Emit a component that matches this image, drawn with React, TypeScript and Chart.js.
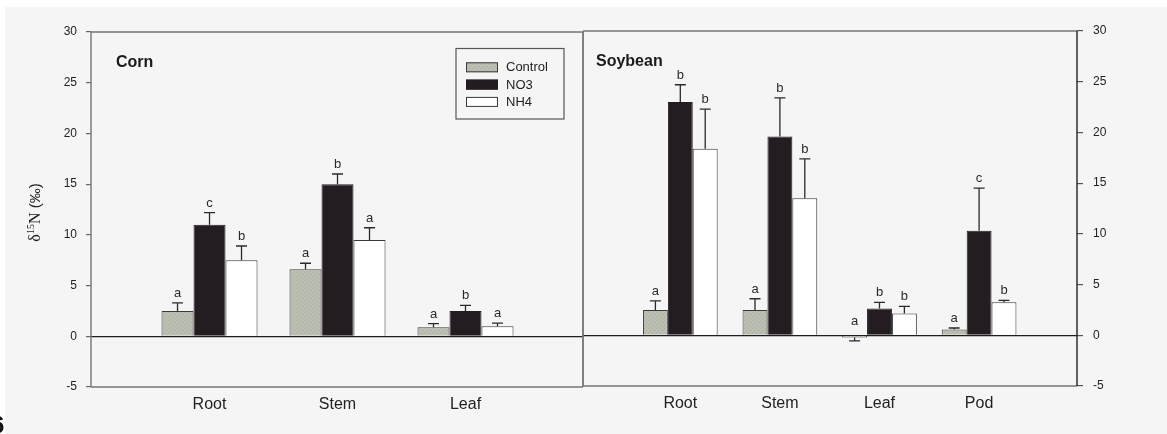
import React, { useEffect, useRef } from 'react';
import { Chart, registerables } from 'chart.js';

Chart.register(...registerables);

const W = 1167;
const H = 434;

const SANS = "'Liberation Sans', Arial, sans-serif";
const SERIF = "'Liberation Serif', 'Times New Roman', serif";

// Treatments and plant parts
const treatments = ['Control', 'NO3', 'NH4'];
const cornParts = ['Root', 'Stem', 'Leaf'];
const soyParts = ['Root', 'Stem', 'Leaf', 'Pod'];

// Corn: mean δ15N (‰), standard error, significance letters
const cornControl = [2.5, 6.6, 0.9];
const cornNO3 = [11.0, 15.0, 2.5];
const cornNH4 = [7.5, 9.5, 1.0];
const cornControlErr = [0.8, 0.6, 0.35];
const cornNO3Err = [1.2, 1.0, 0.55];
const cornNH4Err = [1.4, 1.2, 0.3];
const cornControlSig = ['a', 'a', 'a'];
const cornNO3Sig = ['c', 'b', 'b'];
const cornNH4Sig = ['b', 'a', 'a'];

// Soybean: mean δ15N (‰), standard error, significance letters
const soyControl = [2.5, 2.5, -0.23, 0.56];
const soyNO3 = [23.0, 19.6, 2.65, 10.3];
const soyNH4 = [18.4, 13.5, 2.15, 3.25];
const soyControlErr = [0.9, 1.1, 0.33, 0.16];
const soyNO3Err = [1.7, 3.8, 0.6, 4.2];
const soyNH4Err = [3.9, 3.9, 0.7, 0.2];
const soyControlSig = ['a', 'a', 'a', 'a'];
const soyNO3Sig = ['b', 'b', 'b', 'c'];
const soyNH4Sig = ['b', 'b', 'b', 'b'];

// Shared value axis
const yMin = -5;
const yMax = 30;
const yStep = 5;

const edgeColors = ['#3a3a3a', '#231c21', '#3a3a3a'];

function makeStipple(): CanvasPattern | string {
  const c = document.createElement('canvas');
  c.width = 4;
  c.height = 4;
  const g = c.getContext('2d');
  if (!g) return '#b9bdaf';
  g.fillStyle = '#b9bdaf';
  g.fillRect(0, 0, 4, 4);
  g.fillStyle = '#adb1a3';
  g.fillRect(0, 0, 1, 1);
  g.fillRect(2, 2, 1, 1);
  g.fillStyle = '#c3c7b9';
  g.fillRect(2, 0, 1, 1);
  g.fillRect(0, 2, 1, 1);
  const p = g.createPattern(c, 'repeat');
  return p || '#b9bdaf';
}

function makeDatasets(
  values: number[][],
  errs: number[][],
  sigs: string[][],
  fills: (CanvasPattern | string)[]
) {
  return treatments.map((t, k) => ({
    label: t,
    data: values[k].map((v, i) => ({ x: i + 1, y: v })),
    err: errs[k],
    sig: sigs[k],
    backgroundColor: fills[k],
    borderColor: edgeColors[k],
    borderWidth: 1,
    categoryPercentage: 0.75,
    barPercentage: 1,
  }));
}

// Frame, error bars, letters, panel title, legend and axis title
const panelPlugin = {
  id: 'panel',
  beforeDatasetsDraw(chart: any, _args: any, opts: any) {
    const { ctx, chartArea: a } = chart;
    ctx.save();
    ctx.lineWidth = 1.4;
    ctx.strokeStyle = '#767676';
    ctx.beginPath();
    ctx.moveTo(a.left, a.top);
    ctx.lineTo(a.right, a.top);
    ctx.moveTo(a.left, a.bottom);
    ctx.lineTo(a.right, a.bottom);
    ctx.moveTo(a.left, a.top);
    ctx.lineTo(a.left, a.bottom);
    if (opts.rightAxis !== true) {
      ctx.moveTo(a.right, a.top);
      ctx.lineTo(a.right, a.bottom);
    }
    ctx.stroke();
    if (opts.rightAxis === true) {
      ctx.strokeStyle = '#222';
      ctx.beginPath();
      ctx.moveTo(a.right, a.top);
      ctx.lineTo(a.right, a.bottom);
      ctx.stroke();
    }
    ctx.restore();
  },
  afterDatasetsDraw(chart: any, _args: any, opts: any) {
    const { ctx, chartArea: a } = chart;
    const yScale = chart.scales.y;
    ctx.save();

    // error bars and significance letters
    chart.data.datasets.forEach((ds: any, k: number) => {
      const meta = chart.getDatasetMeta(k);
      meta.data.forEach((bar: any, i: number) => {
        const v = ds.data[i].y;
        const e = ds.err[i];
        const end = v >= 0 ? v + e : v - e;
        const y0 = yScale.getPixelForValue(v);
        const y1 = yScale.getPixelForValue(end);
        ctx.strokeStyle = '#2a2a2a';
        ctx.lineWidth = 1.3;
        ctx.beginPath();
        ctx.moveTo(bar.x, y0);
        ctx.lineTo(bar.x, y1);
        ctx.moveTo(bar.x - 5.5, y1);
        ctx.lineTo(bar.x + 5.5, y1);
        ctx.stroke();
        const ly = v >= 0 ? y1 - 6 : yScale.getPixelForValue(0) - 10;
        ctx.fillStyle = '#2a2a2a';
        ctx.font = `13px ${SANS}`;
        ctx.textAlign = 'center';
        ctx.textBaseline = 'alphabetic';
        ctx.fillText(ds.sig[i], bar.x, ly);
      });
    });

    // panel title
    ctx.fillStyle = '#1a1a1a';
    ctx.font = `bold 16px ${SANS}`;
    ctx.textAlign = 'left';
    ctx.textBaseline = 'alphabetic';
    ctx.fillText(opts.title, a.left + opts.titleDx, a.top + 34.5);

    // legend box
    if (opts.legend) {
      const bx = a.right - 127;
      const by = a.top + 16.5;
      ctx.strokeStyle = '#555';
      ctx.lineWidth = 1.2;
      ctx.strokeRect(bx, by, 108, 70.5);
      chart.data.datasets.forEach((ds: any, k: number) => {
        const cy = by + 18.8 + k * 17.3;
        ctx.fillStyle = ds.backgroundColor;
        ctx.fillRect(bx + 10, cy - 5, 32, 10);
        ctx.strokeStyle = ds.borderColor;
        ctx.lineWidth = 1;
        ctx.strokeRect(bx + 10.5, cy - 4.5, 31, 9);
        ctx.fillStyle = '#1e1e1e';
        ctx.font = `13px ${SANS}`;
        ctx.textBaseline = 'middle';
        ctx.fillText(ds.label, bx + 50, cy + 0.5);
      });
    }

    // rotated value-axis title: δ15N (‰)
    if (opts.yTitle) {
      ctx.fillStyle = '#222';
      ctx.textBaseline = 'alphabetic';
      ctx.textAlign = 'left';
      const parts = [
        { t: 'δ', f: `16px ${SERIF}`, dy: 0 },
        { t: '15', f: `10px ${SERIF}`, dy: -6 },
        { t: 'N', f: `16px ${SERIF}`, dy: 0 },
        { t: ' (‰)', f: `15px ${SANS}`, dy: 0 },
      ];
      let total = 0;
      parts.forEach((p) => {
        ctx.font = p.f;
        total += ctx.measureText(p.t).width;
      });
      const cx = a.left - 51;
      const cy = (a.top + a.bottom) / 2 + 3;
      ctx.translate(cx, cy + total / 2);
      ctx.rotate(-Math.PI / 2);
      let x = 0;
      parts.forEach((p) => {
        ctx.font = p.f;
        ctx.fillText(p.t, x, p.dy);
        x += ctx.measureText(p.t).width;
      });
    }
    ctx.restore();
  },
};

function buildConfig(o: {
  parts: string[];
  datasets: any[];
  xMin: number;
  xMax: number;
  side: 'left' | 'right';
  padding: { left: number; right: number; top: number; bottom: number };
  axisWidth: number;
  axisHeight: number;
  tickLength: number;
  tickPad: number;
  tickColor: string;
  title: string;
  titleDx: number;
  legend: boolean;
  yTitle: boolean;
}): any {
  return {
    type: 'bar',
    data: { datasets: o.datasets },
    plugins: [panelPlugin],
    options: {
      responsive: false,
      animation: false,
      events: [],
      layout: { padding: o.padding },
      plugins: {
        legend: { display: false },
        tooltip: { enabled: false },
        panel: {
          title: o.title,
          titleDx: o.titleDx,
          legend: o.legend,
          yTitle: o.yTitle,
          rightAxis: o.side === 'right',
        },
      },
      scales: {
        x: {
          type: 'linear',
          offset: false,
          min: o.xMin,
          max: o.xMax,
          afterBuildTicks: (s: any) => {
            s.ticks = o.parts.map((_, i) => ({ value: i + 1 }));
          },
          afterFit: (s: any) => {
            s.height = o.axisHeight;
          },
          grid: { display: false, drawTicks: false, offset: false },
          border: { display: false },
          ticks: {
            callback: (_v: any, i: number) => o.parts[i],
            font: { family: SANS, size: 16 },
            color: '#222',
            padding: 8,
            maxRotation: 0,
            autoSkip: false,
          },
        },
        y: {
          type: 'linear',
          position: o.side,
          min: yMin,
          max: yMax,
          afterFit: (s: any) => {
            s.width = o.axisWidth;
          },
          border: { display: false },
          grid: {
            drawOnChartArea: true,
            drawTicks: true,
            tickLength: o.tickLength,
            tickColor: o.tickColor,
            tickWidth: 1.2,
            lineWidth: 1.2,
            color: (c: any) => (c.tick && c.tick.value === 0 ? '#1e1e1e' : 'rgba(0,0,0,0)'),
          },
          ticks: {
            stepSize: yStep,
            font: { family: SANS, size: 12 },
            color: '#222',
            padding: o.tickPad,
          },
        },
      },
    },
  };
}

export default function App() {
  const leftRef = useRef<HTMLCanvasElement>(null);
  const rightRef = useRef<HTMLCanvasElement>(null);

  useEffect(() => {
    const stipple = makeStipple();
    const fills = [stipple, '#231c21', '#ffffff'];

    const left = new Chart(
      leftRef.current as HTMLCanvasElement,
      buildConfig({
        parts: cornParts,
        datasets: makeDatasets(
          [cornControl, cornNO3, cornNH4],
          [cornControlErr, cornNO3Err, cornNH4Err],
          [cornControlSig, cornNO3Sig, cornNH4Sig],
          fills
        ),
        xMin: 0.074,
        xMax: 3.918,
        side: 'left',
        padding: { left: 0, right: W - 583, top: 32, bottom: 0 },
        axisWidth: 91,
        axisHeight: 47,
        tickLength: 5,
        tickPad: 9,
        tickColor: '#666',
        title: 'Corn',
        titleDx: 25,
        legend: true,
        yTitle: true,
      })
    );

    const right = new Chart(
      rightRef.current as HTMLCanvasElement,
      buildConfig({
        parts: soyParts,
        datasets: makeDatasets(
          [soyControl, soyNO3, soyNH4],
          [soyControlErr, soyNO3Err, soyNH4Err],
          [soyControlSig, soyNO3Sig, soyNH4Sig],
          fills
        ),
        xMin: 0.023,
        xMax: 4.983,
        side: 'right',
        padding: { left: 583, right: 0, top: 31, bottom: 0 },
        axisWidth: W - 1077,
        axisHeight: 48,
        tickLength: 6,
        tickPad: 10,
        tickColor: '#555',
        title: 'Soybean',
        titleDx: 13,
        legend: false,
        yTitle: false,
      })
    );

    return () => {
      left.destroy();
      right.destroy();
    };
  }, []);

  return (
    <div
      style={{
        position: 'absolute',
        left: 0,
        top: 0,
        width: W,
        height: H,
        background: '#ffffff',
        overflow: 'hidden',
      }}
    >
      <div
        style={{
          position: 'absolute',
          left: 5,
          top: 7,
          right: 0,
          bottom: 0,
          background: '#f5f5f5',
        }}
      />
      <canvas ref={leftRef} width={W} height={H} style={{ position: 'absolute', left: 0, top: 0 }} />
      <canvas ref={rightRef} width={W} height={H} style={{ position: 'absolute', left: 0, top: 0 }} />
      <div
        style={{
          position: 'absolute',
          left: -9,
          top: 413,
          font: `bold 24px ${SANS}`,
          lineHeight: '24px',
          color: '#111',
        }}
      >
        6
      </div>
    </div>
  );
}
